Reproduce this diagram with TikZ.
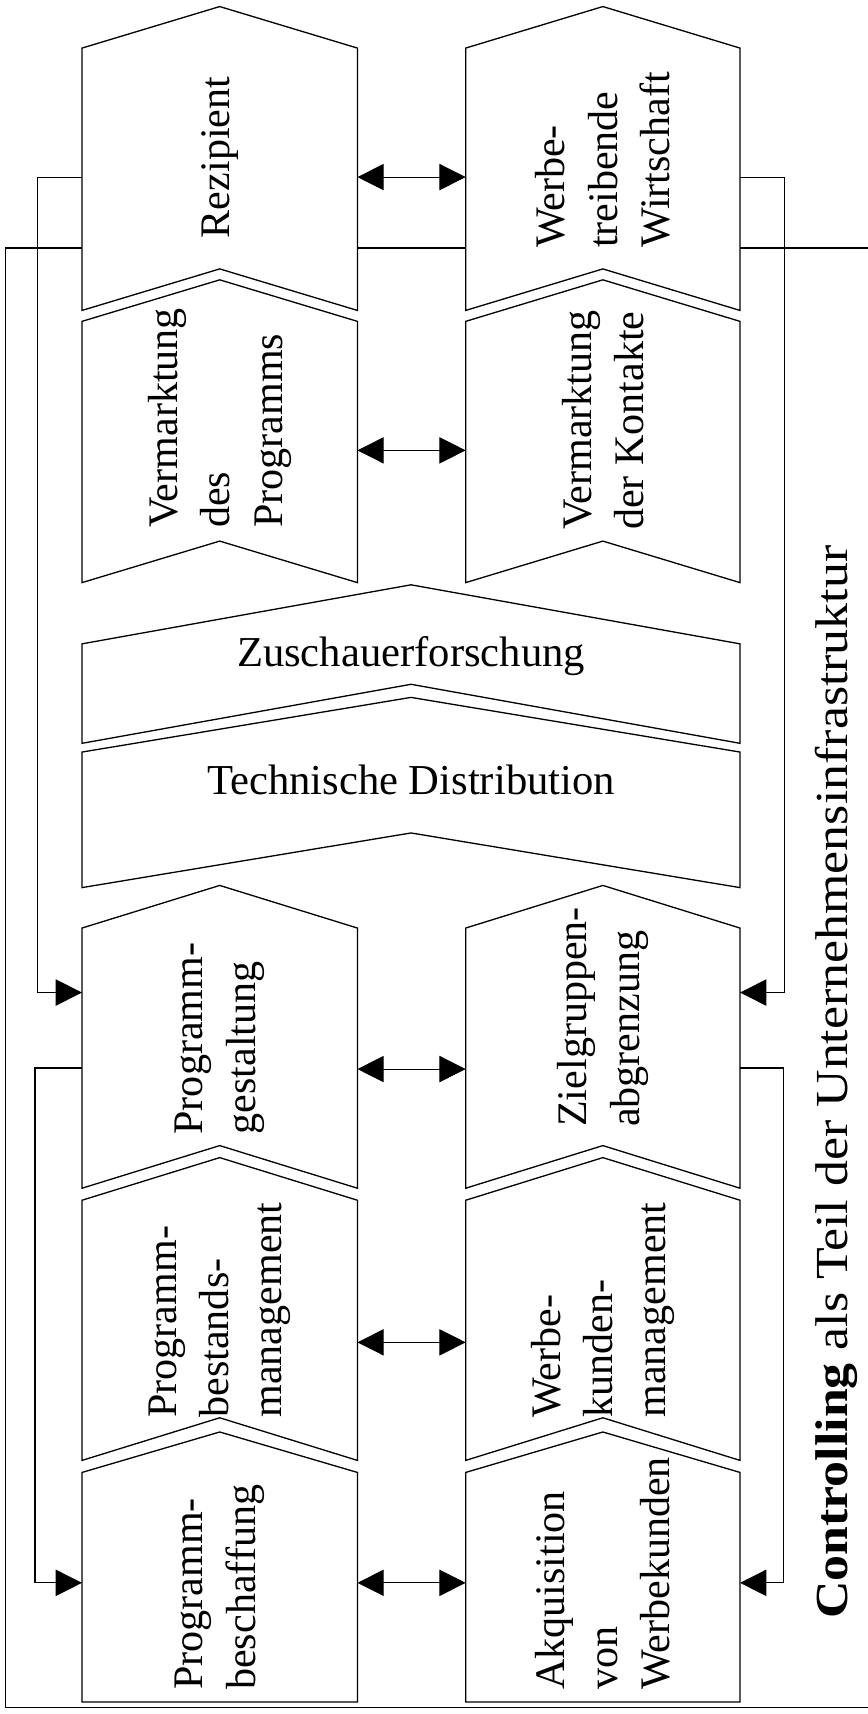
\documentclass[tikz,border=0pt]{standalone}
\usepackage{fontspec}
\setmainfont{Liberation Serif}
\newfontfamily\ctrlfont{Liberation Serif}[FakeStretch=1.13]
\usetikzlibrary{arrows.meta}
\newcommand{\chevbox}[5]{%
  \draw[boxline] ({#1},{#3+#5}) -- ({(#1+#2)/2},{#3}) -- ({#2},{#3+#5}) -- ({#2},{#4}) -- ({(#1+#2)/2},{#4-#5}) -- ({#1},{#4}) -- cycle;}
\newcommand{\chevflat}[5]{%
  \draw[boxline] ({#1},{#3+#5}) -- ({(#1+#2)/2},{#3}) -- ({#2},{#3+#5}) -- ({#2},{#4}) -- ({#1},{#4}) -- cycle;}
\begin{document}
\begin{tikzpicture}[x=1pt,y=-1pt,
  >={Triangle[length=24pt,width=24pt]},
  boxline/.style={draw=black,fill=white,line width=1.2pt,line join=miter},
  frameline/.style={draw=black,line width=1.2pt},
  conn/.style={draw=black,line width=1pt},
  rotlabel/.style={rotate=90,anchor=west,align=left,inner sep=0pt,font=\fontsize{38.5}{48}\selectfont},
  widelabel/.style={anchor=base,inner sep=0pt,font=\fontsize{39}{46}\selectfont}]
\useasboundingbox (0,0) rectangle (794,1568);
\fill[white] (0,0) rectangle (794,1568);
% outer frame
\draw[frameline] (794,227) -- (5,227) -- (5,1562) -- (794,1562);
% row 1
\chevbox{75}{327}{6}{284}{38}
\chevbox{426}{677}{6}{284}{38}
% row 2
\chevbox{75}{327}{256}{533}{38}
\chevbox{426}{677}{256}{533}{38}
% wide boxes
\chevbox{75}{677}{535}{680}{54}
\chevbox{75}{677}{638}{812}{50}
% row 3
\chevbox{75}{327}{810}{1087}{39}
\chevbox{426}{677}{810}{1087}{39}
% row 4
\chevbox{75}{327}{1059}{1336}{39}
\chevbox{426}{677}{1059}{1336}{39}
% row 5
\chevflat{75}{327}{1310}{1557}{37}
\chevflat{426}{677}{1310}{1557}{37}
% connector points
\coordinate (rezW) at (75,162);
\coordinate (rezE) at (327,162);
\coordinate (wwW) at (426,162);
\coordinate (wwE) at (677,162);
\coordinate (vpE) at (327,412);
\coordinate (vkW) at (426,412);
\coordinate (pgWin) at (75,908);
\coordinate (pgWout) at (75,977);
\coordinate (pgE) at (327,978);
\coordinate (zgW) at (426,978);
\coordinate (zgEin) at (677,908);
\coordinate (zgEout) at (677,977);
\coordinate (pbmE) at (327,1228);
\coordinate (wkmW) at (426,1228);
\coordinate (pbW) at (75,1448);
\coordinate (pbE) at (327,1448);
\coordinate (akW) at (426,1448);
\coordinate (akE) at (677,1448);
% loops
\draw[conn,->] (rezW) -- ++(-41,0) |- (pgWin);
\draw[conn,->] (wwE) -- ++(41,0) |- (zgEin);
\draw[conn,->] (pgWout) -- ++(-43,0) |- (pbW);
\draw[conn,->] (zgEout) -- ++(40,0) |- (akE);
% double arrows
\draw[conn,<->] (rezE) -- (wwW);
\draw[conn,<->] (vpE) -- (vkW);
\draw[conn,<->] (pgE) -- (zgW);
\draw[conn,<->] (pbmE) -- (wkmW);
\draw[conn,<->] (pbE) -- (akW);
% labels
\node[rotlabel] (rez) at (201,218) {Rezipient};
\node[rotlabel] (ww) at (551.5,227) {Werbe-\\treibende\\Wirtschaft};
\node[rotlabel] (vp) at (201,483) {Vermarktung\\des\\Programms};
\node[rotlabel] (vk) at (551.5,485) {Vermarktung\\der Kontakte};
\node[widelabel] (zf) at (376,610) {Zuschauerforschung};
\node[widelabel] (td) at (376,727) {Technische Distribution};
\node[rotlabel] (pg) at (201,1038) {Programm-\\gestaltung};
\node[rotlabel] (zg) at (551.5,1031) {Zielgruppen-\\abgrenzung};
\node[rotlabel] (pbm) at (201,1297) {Programm-\\bestands-\\management};
\node[rotlabel] (wkm) at (551.5,1297) {Werbe-\\kunden-\\management};
\node[rotlabel] (pb) at (201,1546) {Programm-\\beschaffung};
\node[rotlabel] (ak) at (551.5,1546) {Akquisition\\von\\Werbekunden};
\node[rotate=90,anchor=base,inner sep=0pt,font=\ctrlfont\fontsize{42}{50}\selectfont] (ctrl) at (775,990) {\textbf{Controlling} als Teil der Unternehmensinfrastruktur};
\end{tikzpicture}
\end{document}
